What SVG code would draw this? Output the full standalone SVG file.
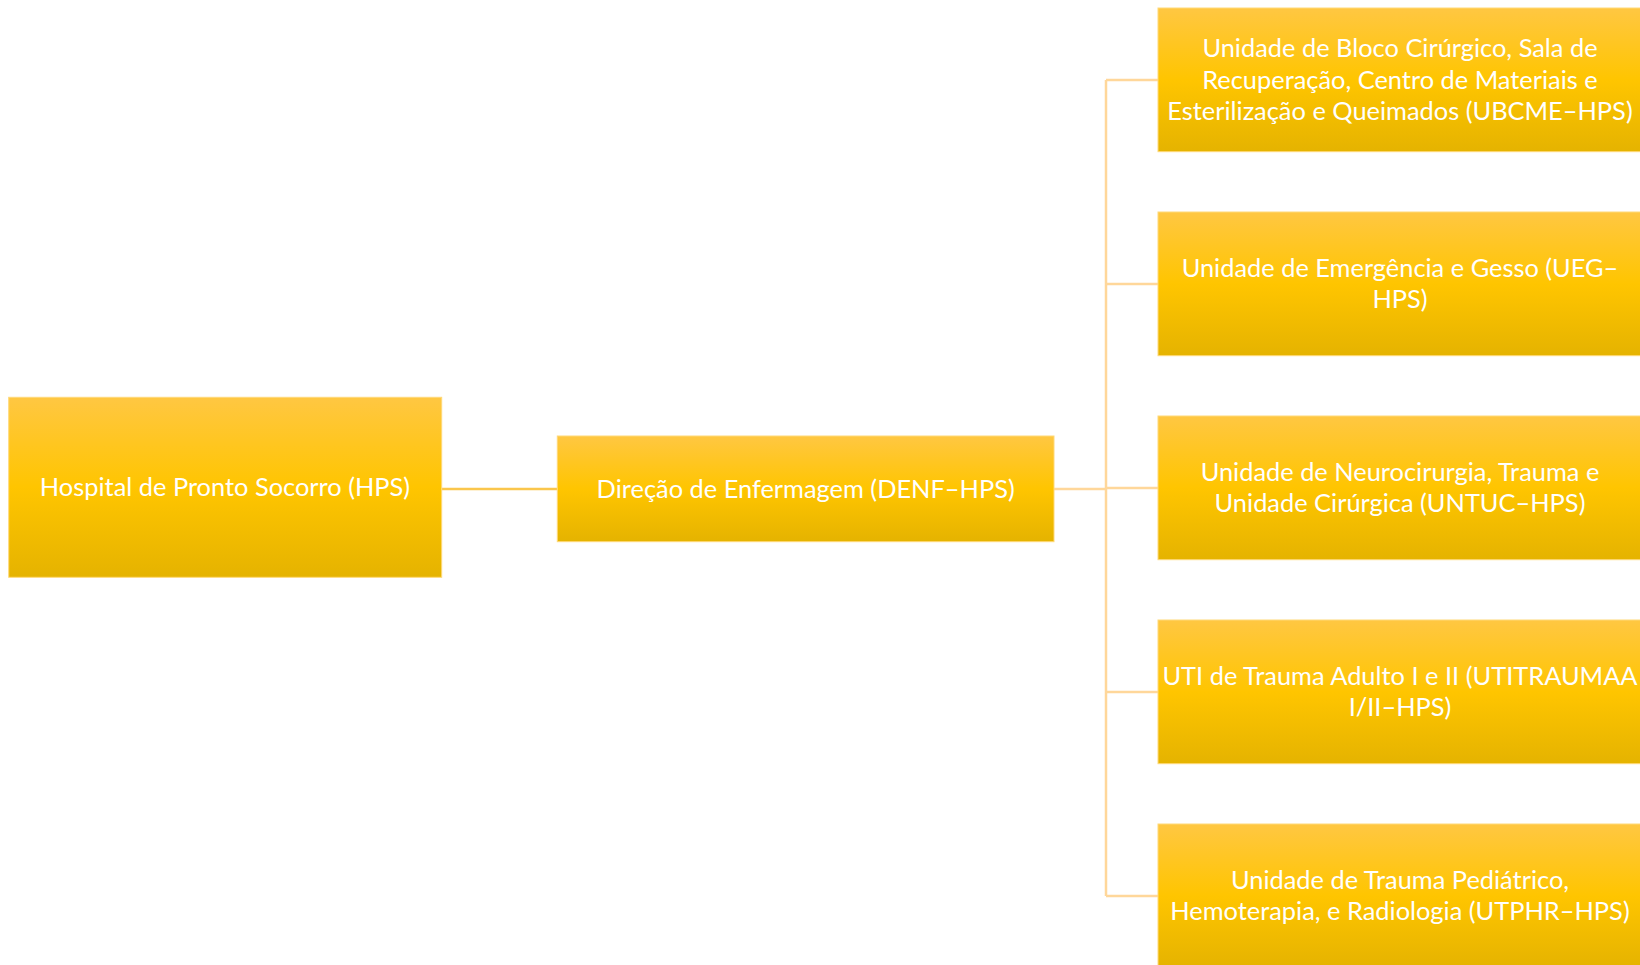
<svg xmlns="http://www.w3.org/2000/svg" width="1640" height="965" viewBox="0 0 1640 965">
<defs>
<linearGradient id="gold" x1="0" y1="0" x2="0" y2="1">
<stop offset="0" stop-color="#FFC742"/>
<stop offset="0.5" stop-color="#FFC500"/>
<stop offset="1" stop-color="#E5B300"/>
</linearGradient>
<style>
.box{fill:url(#gold);stroke:#FFD978;stroke-width:1}
.t{font-family:Lato,"Open Sans",sans-serif;font-size:25.4px;fill:#FFFFFF;text-anchor:middle}
.c{fill:none;stroke:#FFD79A;stroke-width:2.5}
.c1{fill:none;stroke:#FAC64C;stroke-width:2.5}
</style>
</defs>
<rect width="1640" height="965" fill="#FFFFFF"/>
<g id="connectors">
<line class="c1" x1="441.7" y1="489" x2="557.3" y2="489"/>
<path class="c" d="M1054 489 H1106 M1106 80 V896 M1106 80 H1158 M1106 284 H1158 M1106 488 H1158 M1106 692 H1158 M1106 896 H1158"/>
</g>
<g id="hps">
<rect class="box" x="8.7" y="397.3" width="433" height="180"/>
<text class="t" x="225" y="496">Hospital de Pronto Socorro (HPS)</text>
</g>
<g id="denf">
<rect class="box" x="557.3" y="436" width="496.7" height="105.7"/>
<text class="t" x="805.7" y="498">Direção de Enfermagem (DENF–HPS)</text>
</g>
<g id="ubcme">
<rect class="box" x="1158" y="8" width="484" height="143.7"/>
<text class="t" x="1400" y="57">Unidade de Bloco Cirúrgico, Sala de</text>
<text class="t" x="1400" y="88.5">Recuperação, Centro de Materiais e</text>
<text class="t" x="1400" y="120">Esterilização e Queimados (UBCME–HPS)</text>
</g>
<g id="ueg">
<rect class="box" x="1158" y="212" width="484" height="143.7"/>
<text class="t" x="1400" y="276.5">Unidade de Emergência e Gesso (UEG–</text>
<text class="t" x="1400" y="308">HPS)</text>
</g>
<g id="untuc">
<rect class="box" x="1158" y="416" width="484" height="143.7"/>
<text class="t" x="1400" y="480.5">Unidade de Neurocirurgia, Trauma e</text>
<text class="t" x="1400" y="512">Unidade Cirúrgica (UNTUC–HPS)</text>
</g>
<g id="utitraumaa">
<rect class="box" x="1158" y="620" width="484" height="143.7"/>
<text class="t" x="1400" y="684.5">UTI de Trauma Adulto I e II (UTITRAUMAA</text>
<text class="t" x="1400" y="716">I/II–HPS)</text>
</g>
<g id="utphr">
<rect class="box" x="1158" y="824" width="484" height="143.7"/>
<text class="t" x="1400" y="888.5">Unidade de Trauma Pediátrico,</text>
<text class="t" x="1400" y="920">Hemoterapia, e Radiologia (UTPHR–HPS)</text>
</g>
</svg>
